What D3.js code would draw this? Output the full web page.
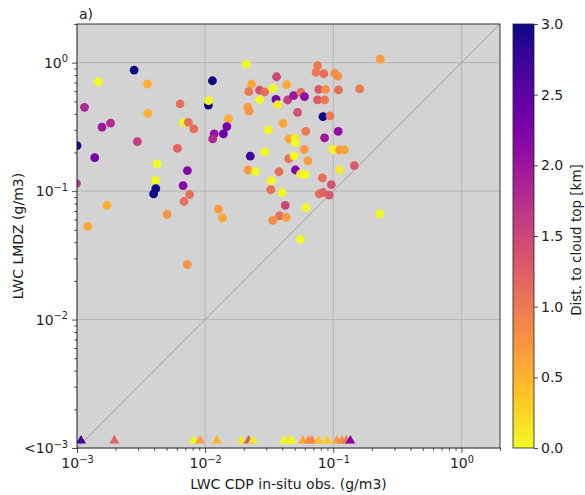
<!DOCTYPE html>
<html><head><meta charset="utf-8">
<script src="https://cdn.jsdelivr.net/npm/d3@7"></script>
<style>body{margin:0;background:#fff;} text{font-family:"DejaVu Sans",sans-serif;}</style>
</head><body><svg id="c" width="585" height="495"></svg>
<script>
// LWC from CDP in-situ observations (g/m3)
const xObs = [2.79e-3,1.467e-3,3.555e-3,1.144e-3,3.567e-3,1.827e-3,1.568e-3,2.958e-3,1.0e-3,1.375e-3,
  6.38e-3,6.77e-3,7.40e-3,8.16e-3,6.08e-3,4.22e-3,4.09e-3,4.12e-3,3.96e-3,7.27e-3,
  6.73e-3,7.56e-3,0.99e-3,6.85e-3,1.716e-3,5.05e-3,1.212e-3,7.27e-3,2.09e-2,1.14e-2,
  1.061e-2,1.065e-2,2.30e-2,2.19e-2,3.61e-2,2.66e-2,2.91e-2,3.38e-2,4.32e-2,2.66e-2,
  3.57e-2,3.69e-2,4.40e-2,4.90e-2,5.59e-2,5.96e-2,2.15e-2,2.20e-2,7.54e-2,7.34e-2,
  8.43e-2,0.1027,0.1084,7.70e-2,8.69e-2,0.1098,7.54e-2,8.58e-2,5.26e-2,8.31e-2,
  9.44e-2,1.52e-2,1.477e-2,1.176e-2,1.145e-2,1.388e-2,4.05e-2,3.12e-2,6.09e-2,4.52e-2,
  5.02e-2,5.05e-2,8.55e-2,0.1092,5.93e-2,9.91e-2,0.112,0.1223,2.25e-2,2.92e-2,
  4.49e-2,4.94e-2,6.34e-2,2.16e-2,2.47e-2,3.77e-2,5.07e-2,5.55e-2,6.04e-2,3.28e-2,
  8.23e-2,0.112,9.65e-2,3.25e-2,3.98e-2,7.77e-2,8.31e-2,9.31e-2,4.22e-2,6.12e-2,
  3.81e-2,4.29e-2,3.37e-2,1.27e-2,1.366e-2,5.55e-2,0.233,0.1605,0.146,0.230];
// LWC from LMDZ (g/m3)
const yModel = [0.876,0.710,0.682,0.449,0.403,0.338,0.315,0.243,0.226,0.182,
  0.477,0.341,0.343,0.305,0.215,0.163,0.1209,0.1047,0.0953,0.1445,
  0.1105,0.0941,0.1146,0.0830,0.0773,0.0658,0.0531,0.0268,0.975,0.723,
  0.468,0.506,0.682,0.594,0.777,0.610,0.591,0.630,0.673,0.515,
  0.518,0.472,0.512,0.553,0.587,0.543,0.449,0.419,0.946,0.839,
  0.820,0.827,0.784,0.619,0.618,0.613,0.513,0.512,0.410,0.380,
  0.385,0.366,0.318,0.279,0.255,0.279,0.337,0.300,0.292,0.255,
  0.259,0.238,0.260,0.292,0.211,0.211,0.209,0.209,0.187,0.202,
  0.179,0.188,0.172,0.146,0.142,0.1415,0.146,0.136,0.1346,0.1205,
  0.1268,0.146,0.1125,0.1025,0.0975,0.0953,0.0975,0.0929,0.0773,0.0742,
  0.0641,0.0624,0.0591,0.0723,0.0620,0.0421,1.067,0.624,0.158,0.0666];
// Distance to cloud top (km)
const dist = [3.0,0.0,0.55,1.85,0.55,1.8,2.0,1.6,2.9,2.3,
  1.1,0.0,1.1,1.1,1.2,0.0,0.0,3.0,3.0,2.2,
  2.2,1.1,1.7,1.1,0.55,0.75,0.6,0.75,0.0,3.0,
  3.0,0.0,0.6,1.0,1.5,1.4,1.1,0.0,0.6,0.0,
  2.3,0.1,1.6,2.0,1.1,2.1,0.7,0.75,1.0,1.0,
  1.1,0.8,0.8,1.3,0.8,1.1,1.3,1.0,1.4,3.0,
  1.0,0.55,2.3,2.1,1.8,2.4,0.6,0.0,1.0,0.6,
  0.1,0.0,2.0,2.1,0.7,0.05,0.7,0.6,2.7,0.0,
  1.1,0.0,0.7,0.7,0.0,1.1,2.2,0.1,0.0,0.0,
  1.1,0.1,1.4,1.1,0.0,1.1,1.2,1.3,1.5,0.0,
  1.1,0.7,0.8,0.7,0.6,0.0,0.7,1.0,1.3,0.0];
// Model values below 1e-3 (drawn as triangles on the floor)
const xBelow = [1.075e-3,1.956e-3,8.10e-3,9.14e-3,1.234e-2,1.935e-2,2.18e-2,2.36e-2,4.09e-2,4.48e-2,
  4.76e-2,5.80e-2,6.41e-2,6.82e-2,7.68e-2,8.93e-2,0.1069,0.117,0.1264,0.1358];
const distBelow = [2.7,1.2,0.0,0.7,0.5,0.1,1.3,0.1,0.0,0.1,
  0.0,0.6,0.8,0.9,0.4,0.35,0.7,0.8,1.0,2.2];
const belowY = 0.00115;
const majorTicks = [1e-3,1e-2,1e-1,1];
const xTickExp = ["\u22123","\u22122","\u22121","0"];
const yTickPre = ["<10","10","10","10"];
const cbTicks = [0,0.5,1.0,1.5,2.0,2.5,3.0];

const svg = d3.select("#c");
const M = {l:77, r:500, t:24, b:448};
const x = d3.scaleLog().domain([1e-3, 2]).range([M.l, M.r]);
const y = d3.scaleLog().domain([1e-3, 2]).range([M.b, M.t]);
const cscale = d3.scaleSequential(t => d3.interpolatePlasma(1 - t)).domain([0, 3]);
const FS = 14, LFS = 14;

svg.append("rect").attr("x",M.l).attr("y",M.t).attr("width",M.r-M.l).attr("height",M.b-M.t).attr("fill","#d3d3d3");
const defs = svg.append("defs");
defs.append("clipPath").attr("id","clip").append("rect")
  .attr("x",M.l).attr("y",M.t).attr("width",M.r-M.l).attr("height",M.b-M.t);

// grid
const grid = svg.append("g").attr("stroke","#b0b0b0").attr("stroke-width",0.8);
majorTicks.forEach(v=>{
  grid.append("line").attr("x1",x(v)).attr("x2",x(v)).attr("y1",M.t).attr("y2",M.b);
  grid.append("line").attr("y1",y(v)).attr("y2",y(v)).attr("x1",M.l).attr("x2",M.r);
});
// 1:1 line
svg.append("line").attr("x1",x(1e-3)).attr("y1",y(1e-3)).attr("x2",x(2)).attr("y2",y(2))
  .attr("stroke","#a0a0a0").attr("stroke-width",1);

const pts = svg.append("g").attr("clip-path","url(#clip)");
pts.selectAll("circle").data(xObs.map((d,i)=>({x:d,y:yModel[i],v:dist[i]}))).join("circle")
  .attr("cx",d=>x(d.x)).attr("cy",d=>y(d.y)).attr("r",4.4).attr("fill",d=>cscale(d.v));
const tri = d3.symbol().type(d3.symbolTriangle).size(44);
pts.selectAll("path.tri").data(xBelow.map((d,i)=>({x:d,v:distBelow[i]}))).join("path")
  .attr("class","tri").attr("d",tri)
  .attr("transform",d=>`translate(${x(d.x)},${y(belowY)+0.5})`).attr("fill",d=>cscale(d.v));

// minor ticks
const minor = [];
for (let k=-3;k<=0;k++) for (let m=2;m<=9;m++){ const v=m*Math.pow(10,k); if (v<=2) minor.push(v); }

function sup(sel, pre, exp){
  sel.text(null);
  sel.append("tspan").text(pre);
  sel.append("tspan").attr("dy","-0.55em").attr("font-size",FS*0.7).text(exp);
}
const gx = svg.append("g").attr("transform",`translate(0,${M.b})`)
  .call(d3.axisBottom(x).tickValues(majorTicks).tickSize(5).tickSizeOuter(0).tickPadding(5));
gx.selectAll(".tick text").attr("font-size",FS).attr("font-family","DejaVu Sans").attr("fill","#222")
  .each(function(d,i){ sup(d3.select(this),"10",xTickExp[i]); });
svg.append("g").attr("transform",`translate(0,${M.b})`)
  .call(d3.axisBottom(x).tickValues(minor).tickSize(2.8).tickSizeOuter(0).tickFormat(""))
  .select(".domain").remove();
const gy = svg.append("g").attr("transform",`translate(${M.l},0)`)
  .call(d3.axisLeft(y).tickValues(majorTicks).tickSize(5).tickSizeOuter(0).tickPadding(4));
gy.selectAll(".tick text").attr("font-size",FS).attr("font-family","DejaVu Sans").attr("fill","#222")
  .each(function(d,i){ sup(d3.select(this),yTickPre[i],xTickExp[i]); });
svg.append("g").attr("transform",`translate(${M.l},0)`)
  .call(d3.axisLeft(y).tickValues(minor).tickSize(2.8).tickSizeOuter(0).tickFormat(""))
  .select(".domain").remove();
svg.selectAll(".domain").remove();
svg.selectAll(".tick line").attr("stroke","#222").attr("stroke-width",0.8);

// frame
svg.append("rect").attr("x",M.l).attr("y",M.t).attr("width",M.r-M.l).attr("height",M.b-M.t)
  .attr("fill","none").attr("stroke","#222").attr("stroke-width",0.9);

// labels
svg.append("text").attr("x",(M.l+M.r)/2).attr("y",489).attr("text-anchor","middle")
  .attr("font-size",LFS).attr("fill","#222").text("LWC CDP in-situ obs. (g/m3)");
svg.append("text").attr("transform",`translate(23,${(M.t+M.b)/2}) rotate(-90)`).attr("text-anchor","middle")
  .attr("font-size",LFS).attr("fill","#222").text("LWC LMDZ (g/m3)");
svg.append("text").attr("x",79).attr("y",19).attr("font-size",FS).attr("fill","#222").text("a)");

// colorbar
const CB = {x:513, w:21};
const cy = d3.scaleLinear().domain([0,3]).range([M.b, M.t]);
const grad = defs.append("linearGradient").attr("id","cb").attr("x1",0).attr("y1",1).attr("x2",0).attr("y2",0);
d3.range(0,1.0001,0.05).forEach(t=>grad.append("stop").attr("offset",t).attr("stop-color",cscale(t*3)));
svg.append("rect").attr("x",CB.x).attr("y",M.t).attr("width",CB.w).attr("height",M.b-M.t)
  .attr("fill","url(#cb)").attr("stroke","#222").attr("stroke-width",0.8);
const gc = svg.append("g").attr("transform",`translate(${CB.x+CB.w},0)`)
  .call(d3.axisRight(cy).tickValues(cbTicks).tickFormat(d3.format(".1f")).tickSize(4).tickPadding(3));
gc.select(".domain").remove();
gc.selectAll(".tick line").attr("stroke","#222").attr("stroke-width",0.8);
gc.selectAll(".tick text").attr("font-size",FS).attr("font-family","DejaVu Sans").attr("fill","#222");
svg.append("text").attr("transform",`translate(581,240) rotate(-90)`).attr("text-anchor","middle")
  .attr("font-size",13.5).attr("fill","#222").text("Dist. to cloud top [km]");
</script></body></html>
